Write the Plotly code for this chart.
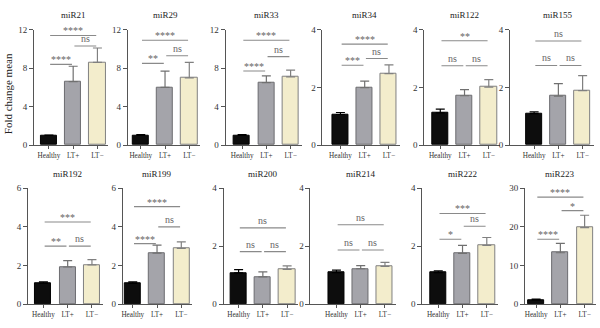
import plotly.graph_objects as go

panels = ["miR21", "miR29", "miR33", "miR34", "miR122", "miR155",
          "miR192", "miR199", "miR200", "miR214", "miR222", "miR223"]
groups = ["Healthy", "LT+", "LT−"]
healthy = [1.0, 1.0, 1.0, 1.06, 1.12, 1.09, 1.08, 1.07, 1.08, 1.09, 1.09, 1.1]
lt_pos = [6.6, 6.0, 6.5, 1.99, 1.71, 1.70, 1.92, 2.64, 0.94, 1.22, 1.75, 13.3]
lt_neg = [8.6, 7.0, 7.1, 2.48, 2.01, 1.89, 2.03, 2.89, 1.20, 1.30, 2.03, 19.8]
healthy_err = [0.05, 0.1, 0.1, 0.07, 0.13, 0.06, 0.07, 0.08, 0.11, 0.08, 0.06, 0.2]
lt_pos_err = [1.6, 1.7, 0.7, 0.23, 0.21, 0.43, 0.33, 0.41, 0.17, 0.11, 0.28, 2.4]
lt_neg_err = [1.5, 1.6, 0.7, 0.30, 0.26, 0.52, 0.27, 0.33, 0.12, 0.14, 0.27, 3.2]
ymax = [12, 12, 12, 4, 4, 4, 6, 6, 4, 4, 4, 30]
ydtick = [4, 4, 4, 2, 2, 2, 2, 2, 2, 2, 2, 10]
sig_hp = ["****", "**", "****", "***", "ns", "ns", "**", "****", "ns", "ns", "*", "****"]
sig_pn = ["ns", "ns", "ns", "ns", "ns", "ns", "ns", "ns", "ns", "ns", "ns", "*"]
sig_hn = ["****", "****", "****", "****", "**", "ns", "***", "****", "ns", "ns", "***", "****"]
y_hp = [8.4, 8.5, 7.7, 2.77, 2.75, 2.76, 3.0, 3.13, 1.81, 1.87, 2.24, 16.8]
y_pn = [10.3, 9.3, 9.2, 3.0, 2.75, 2.76, 3.0, 4.0, 1.81, 1.87, 2.69, 24.2]
y_hn = [11.4, 10.9, 10.9, 3.5, 3.62, 3.61, 4.25, 5.05, 2.63, 2.74, 3.13, 27.7]

# layout (pixels)
W, H = 600, 328
axis_left = [33, 127, 225, 322, 424, 510, 27, 122, 223, 310, 422, 525]
healthy_c = [48, 140, 241.5, 340, 440, 534, 42.5, 132, 238, 336, 438, 536]
unit = 24.3
row_top = [25.5, 189]
row_bot = [144.5, 308.5]

FONT = "Liberation Serif"
fill = ["#0d0d0d", "#a4a4aa", "#f3edcc"]
edge = ["#000000", "#6c6c70", "#808080"]
errc = ["#000000", "#707070", "#808080"]
brk = "#8a8a8a"

fig = go.Figure()
annotations = []
shapes = []
layout = {}

for i, name in enumerate(panels):
    k = i + 1
    xa = "x" if k == 1 else f"x{k}"
    ya = "y" if k == 1 else f"y{k}"
    row = 0 if i < 6 else 1
    left = axis_left[i]
    hc = healthy_c[i]
    right = hc + 2 * unit + 11
    x0 = -(hc - left) / unit
    x1 = 2 + (right - hc - 2 * unit) / unit
    vals = [healthy[i], lt_pos[i], lt_neg[i]]
    errs = [healthy_err[i], lt_pos_err[i], lt_neg_err[i]]
    for g in range(3):
        fig.add_trace(go.Bar(
            x=[g], y=[vals[g]], width=0.66,
            marker=dict(color=fill[g], line=dict(color=edge[g], width=1)),
            error_y=dict(type="data", array=[errs[g]], arrayminus=[0], symmetric=False,
                         color=errc[g], thickness=1.2, width=4.5),
            xaxis=xa, yaxis=ya, showlegend=False, hoverinfo="skip"))
    layout["xaxis" if k == 1 else f"xaxis{k}"] = dict(
        domain=[left / W, right / W], anchor=ya, range=[x0, x1],
        tickmode="array", tickvals=[0, 1, 2], ticktext=groups,
        ticks="outside", ticklen=3, tickcolor="#555", tickwidth=1,
        showline=True, linecolor="#555", linewidth=1, showgrid=False, zeroline=False,
        tickfont=dict(family=FONT, size=7.2, color="#333"), fixedrange=True)
    layout["yaxis" if k == 1 else f"yaxis{k}"] = dict(
        domain=[1 - row_bot[row] / H, 1 - row_top[row] / H], anchor=xa,
        range=[0, ymax[i]], dtick=ydtick[i], tick0=0,
        ticks="outside", ticklen=4, tickcolor="#555", tickwidth=1,
        showline=True, linecolor="#555", linewidth=1, showgrid=False, zeroline=False,
        tickfont=dict(family=FONT, size=9, color="#333"), fixedrange=True)
    # title
    annotations.append(dict(text=name, x=1, xref=xa, y=1 - (row_top[row] - 15) / H, yref="paper",
                            showarrow=False, font=dict(family=FONT, size=9, color="#222"),
                            xanchor="center", yanchor="middle"))
    # brackets
    for (a, b, yv, t) in [(0.05, 0.95, y_hp[i], sig_hp[i]),
                          (1.05, 1.95, y_pn[i], sig_pn[i]),
                          (0.05, 1.95, y_hn[i], sig_hn[i])]:
        shapes.append(dict(type="line", xref=xa, yref=ya, x0=a, x1=b, y0=yv, y1=yv,
                           line=dict(color=brk, width=1.1)))
        is_ns = t == "ns"
        annotations.append(dict(text=t, x=(a + b) / 2, xref=xa, y=yv, yref=ya,
                                showarrow=False, xanchor="center", yanchor="bottom",
                                yshift=-3 if not is_ns else 0,
                                font=dict(family=FONT, size=10, color="#666666")))

annotations.append(dict(text="Fold change mean", x=7 / W, xref="paper", y=1 - 91 / H, yref="paper",
                        textangle=-90, showarrow=False, xanchor="center", yanchor="middle",
                        font=dict(family=FONT, size=11, color="#222")))

fig.update_layout(width=W, height=H, margin=dict(l=0, r=0, t=0, b=0),
                  paper_bgcolor="white", plot_bgcolor="white",
                  annotations=annotations, shapes=shapes, bargap=0, **layout)
fig.write_html("out.html")
